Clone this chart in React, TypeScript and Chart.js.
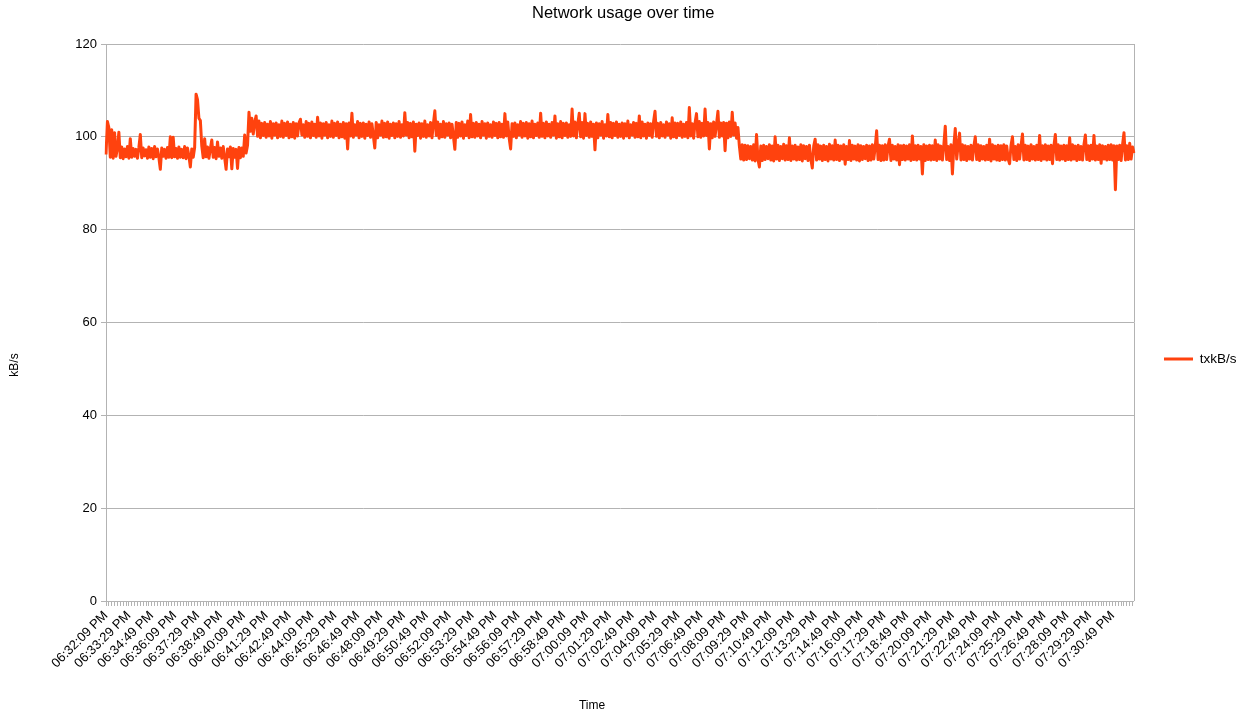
import React, { useEffect, useRef } from "react";
import { Chart, registerables } from "chart.js";

Chart.register(...registerables);

// ---- text ----
const CHART_TITLE = "Network usage over time";
const SERIES_LABEL = "txkB/s";
const X_TITLE = "Time";
const Y_TITLE = "kB/s";

// ---- sampling ----
const START_CLOCK = [18, 32, 9]; // 06:32:09 PM
const SAMPLE_STEP_S = 5;
const TICK_EVERY = 2; // a tick mark every 10 s
const LABEL_EVERY = 16; // a label every 80 s

// ---- value axis ----
const Y_MIN = 0;
const Y_MAX = 120;
const Y_STEP = 20;

// ---- transmit rate (kB/s), one sample every 5 s, 16 samples per row ----
// idle period before the transfer (06:32:09 - 06:40:24)
const idleBefore = [
  96.2, 103.3, 102.0, 95.6, 101.5, 95.4, 100.9, 95.8, 97.6, 101.0, 95.5, 97.8, 95.3, 97.4, 95.7, 97.9,
  95.4, 99.6, 95.6, 97.5, 95.8, 97.3, 95.4, 97.7, 100.5, 95.5, 97.6, 95.9, 97.2, 95.4, 97.8, 95.6,
  97.5, 95.3, 97.9, 95.7, 97.4, 95.5, 93.0, 97.6, 95.8, 97.3, 95.4, 97.7, 95.6, 100.0, 95.5, 99.9,
  95.7, 97.5, 95.4, 97.8, 95.6, 97.3, 95.5, 97.9, 95.3, 97.6, 95.8, 93.5, 97.4, 95.6, 97.7, 109.2,
  108.0, 104.0, 103.5, 98.0, 95.5, 99.6, 95.7, 97.8, 95.4, 97.5, 99.3, 95.6, 97.7, 95.3, 98.9, 95.8,
  97.6, 95.4, 97.9, 95.5, 93.0, 97.4, 95.7, 97.8, 93.1, 97.5, 95.6, 97.3, 93.2, 97.7, 95.5, 97.6,
  95.8, 100.4, 96.5, 98.2,
];

// elevated period (06:40:29 - 07:08:59)
const transfer = [
  105.3, 101.2, 104.0, 100.6, 103.2, 104.5, 100.1, 103.4, 99.8, 102.9, 100.3, 103.1,
  99.9, 102.7, 100.2, 103.3, 99.7, 102.8, 100.4, 103.0, 99.8, 102.6, 100.1, 103.4, 99.9, 102.9, 100.3, 103.2,
  99.8, 102.7, 100.0, 103.1, 99.7, 102.8, 100.2, 103.0, 103.8, 100.4, 102.6, 99.9, 103.3, 100.1, 102.9, 99.8,
  103.2, 100.3, 102.7, 99.9, 104.2, 100.2, 103.0, 99.7, 102.8, 100.4, 103.1, 99.8, 102.6, 100.1, 103.4, 99.9,
  102.9, 100.3, 103.2, 99.8, 102.7, 100.0, 103.1, 99.7, 102.8, 97.4, 103.0, 100.2, 105.1, 99.9, 102.6, 100.4,
  103.3, 99.8, 102.9, 100.1, 103.0, 99.7, 102.7, 100.3, 103.2, 99.9, 102.8, 100.2, 97.6, 103.1, 99.8, 102.6,
  100.4, 103.4, 99.9, 102.9, 100.0, 103.2, 99.7, 102.7, 100.3, 103.0, 99.8, 102.8, 100.1, 103.3, 99.9, 102.6,
  100.2, 105.2, 100.4, 103.1, 99.8, 102.9, 100.0, 103.2, 96.9, 102.7, 100.3, 103.0, 99.7, 102.8, 100.1, 103.4,
  99.9, 102.6, 100.2, 103.1, 99.8, 102.9, 105.6, 100.3, 103.2, 99.7, 102.7, 100.0, 103.3, 99.9, 102.8, 100.4,
  103.0, 99.8, 102.7, 100.1, 97.3, 103.1, 99.9, 102.9, 100.2, 103.2, 99.7, 102.6, 100.3, 103.4, 99.8, 104.8,
  100.0, 102.9, 99.9, 103.1, 100.2, 102.7, 99.8, 103.3, 100.4, 102.8, 99.7, 103.0, 100.1, 102.6, 99.9, 103.2,
  100.3, 102.9, 99.8, 103.1, 100.0, 102.7, 99.9, 105.0, 100.2, 103.2, 99.7, 97.4, 102.8, 100.1, 103.0, 99.8,
  102.6, 100.4, 103.3, 99.9, 102.9, 100.2, 103.1, 99.7, 102.8, 100.0, 103.4, 99.8, 102.7, 100.3, 103.0, 99.9,
  105.1, 100.1, 102.9, 99.8, 103.2, 100.2, 102.7, 99.9, 103.1, 100.4, 104.5, 99.7, 102.8, 100.0, 103.3, 99.8,
  102.9, 100.3, 103.0, 99.9, 102.6, 100.1, 106.0, 100.2, 103.2, 99.8, 102.8, 105.1, 100.0, 103.1, 99.7, 105.0,
  100.3, 102.9, 99.9, 103.2, 100.1, 102.7, 97.2, 103.0, 99.8, 102.8, 100.4, 103.3, 99.7, 102.6, 100.2, 104.8,
  100.0, 103.1, 99.8, 102.9, 100.3, 103.2, 99.9, 102.7, 100.1, 103.0, 99.7, 102.8, 100.2, 103.4, 99.8, 102.6,
  100.4, 103.1, 99.9, 102.9, 100.0, 104.5, 99.8, 103.2, 100.2, 102.7, 99.7, 103.0, 100.3, 102.8, 99.9, 103.3,
  105.5, 100.1, 102.9, 99.8, 103.1, 100.2, 102.6, 99.9, 103.2, 100.4, 102.8, 99.7, 104.1, 100.0, 103.0, 99.8,
  102.9, 100.3, 103.2, 99.9, 102.7, 100.1, 103.1, 99.8, 106.3, 100.2, 102.8, 99.7, 103.0, 105.0, 100.0, 103.3,
  99.9, 102.9, 100.2, 106.0, 100.3, 103.1, 97.4, 102.8, 99.8, 103.2, 100.1, 102.7, 105.5, 99.9, 103.0, 100.2,
  103.1, 97.0, 102.9, 99.8, 103.2, 100.1, 105.3, 100.4, 103.0, 99.7, 102.0,
];

// idle period after the transfer (07:09:04 - 07:32:04)
const idleAfter = [
  98.0, 95.2, 98.3, 95.0, 98.2,
  95.1, 98.1, 95.3, 97.9, 95.0, 98.3, 94.8, 100.5, 95.2, 93.5, 98.0, 94.9, 98.2, 95.1, 97.9, 95.3,
  98.3, 95.0, 98.0, 94.8, 100.0, 95.2, 98.2, 94.9, 97.9, 95.3, 98.4, 95.0, 98.1, 95.1, 99.8, 94.9,
  98.0, 95.2, 98.2, 95.0, 97.8, 95.1, 98.3, 94.8, 98.1, 95.3, 97.9, 94.9, 98.2, 95.1, 93.3, 98.0,
  99.5, 95.0, 98.3, 95.2, 98.0, 94.9, 98.2, 95.1, 97.9, 94.8, 98.4, 95.2, 98.1, 95.0, 99.3, 95.1,
  98.2, 94.9, 98.0, 95.2, 98.3, 94.1, 97.9, 95.1, 99.2, 94.9, 98.2, 95.2, 98.0, 95.0, 98.3, 94.8,
  98.1, 95.1, 97.9, 95.3, 98.2, 94.9, 98.0, 95.0, 98.3, 95.2, 97.8, 101.3, 95.1, 98.2, 94.9, 98.1,
  95.0, 98.3, 95.1, 98.0, 99.5, 94.9, 98.2, 95.2, 97.9, 95.0, 98.3, 94.0, 98.1, 95.1, 98.2, 95.0,
  98.0, 95.2, 98.3, 94.9, 100.2, 95.1, 98.1, 95.0, 98.2, 95.2, 97.9, 92.0, 98.3, 94.9, 98.0, 95.1,
  98.2, 95.0, 98.1, 95.1, 99.3, 94.9, 98.3, 95.2, 98.0, 95.0, 98.2, 102.3, 95.1, 97.9, 94.9, 98.3,
  92.0, 98.0, 101.8, 95.2, 98.2, 100.8, 95.0, 98.3, 95.1, 98.1, 94.9, 97.9, 95.2, 98.2, 95.0, 98.0,
  100.0, 95.1, 98.3, 94.9, 98.1, 95.2, 97.9, 95.0, 98.2, 95.1, 99.5, 94.8, 98.3, 95.2, 98.0, 95.0,
  98.2, 94.9, 98.1, 95.1, 98.3, 95.0, 98.0, 95.2, 94.2, 98.2, 100.0, 95.1, 97.9, 94.9, 98.3, 95.2,
  98.1, 100.6, 95.0, 98.2, 95.1, 98.0, 94.9, 98.3, 95.2, 97.9, 95.0, 98.2, 95.1, 100.3, 94.9, 98.1,
  95.2, 98.3, 95.0, 98.0, 95.1, 98.2, 94.2, 98.1, 100.5, 95.1, 98.3, 95.0, 98.0, 95.2, 98.2, 94.9,
  98.1, 95.1, 99.8, 95.0, 98.3, 95.2, 98.0, 94.9, 98.2, 95.1, 97.9, 95.0, 98.3, 100.4, 95.1, 98.1,
  94.9, 98.2, 95.2, 100.3, 95.0, 98.0, 95.1, 98.3, 94.3, 98.1, 95.2, 97.9, 95.0, 98.2, 95.1, 98.3,
  95.0, 98.1, 88.6, 98.0, 95.1, 98.2, 94.9, 98.3, 100.9, 95.0, 98.1, 95.1, 98.6, 95.2, 97.8, 96.5,
];

const txkBps = [...idleBefore, ...transfer, ...idleAfter];

// ---- style ----
const FONT_FAMILY = '"Liberation Sans", Arial, sans-serif';
const TEXT_COLOR = "#000000";
const GRID_COLOR = "#b3b3b3";
const LINE_COLOR = "#ff420e";

const pad2 = (n: number) => String(n).padStart(2, "0");

function formatClock(totalSec: number): string {
  const h24 = Math.floor(totalSec / 3600) % 24;
  const m = Math.floor((totalSec % 3600) / 60);
  const s = totalSec % 60;
  const suffix = h24 >= 12 ? "PM" : "AM";
  const h12 = h24 % 12 === 0 ? 12 : h24 % 12;
  return `${pad2(h12)}:${pad2(m)}:${pad2(s)} ${suffix}`;
}

const startSec = START_CLOCK[0] * 3600 + START_CLOCK[1] * 60 + START_CLOCK[2];
const timeLabels = txkBps.map((_, i) => formatClock(startSec + i * SAMPLE_STEP_S));

// right-hand frame of the plot area plus the two axis captions
const framePlugin = {
  id: "frameAndCaptions",
  beforeDatasetsDraw(chart: any) {
    const { ctx, chartArea } = chart;
    ctx.save();
    ctx.strokeStyle = GRID_COLOR;
    ctx.lineWidth = 1;
    ctx.beginPath();
    const x = Math.round(chartArea.right) + 0.5;
    ctx.moveTo(x, chartArea.top);
    ctx.lineTo(x, chartArea.bottom);
    ctx.stroke();
    ctx.restore();
  },
  afterDraw(chart: any) {
    const { ctx } = chart;
    ctx.save();
    ctx.fillStyle = TEXT_COLOR;
    ctx.font = `12px ${FONT_FAMILY}`;
    ctx.textAlign = "center";
    ctx.textBaseline = "middle";
    ctx.fillText(X_TITLE, 592, 706);
    ctx.translate(15, 365);
    ctx.rotate(-Math.PI / 2);
    ctx.fillText(Y_TITLE, 0, 0);
    ctx.restore();
  },
};

export default function App() {
  const canvasRef = useRef<HTMLCanvasElement | null>(null);

  useEffect(() => {
    if (!canvasRef.current) return;
    const chart = new Chart(canvasRef.current, {
      type: "line",
      data: {
        labels: timeLabels,
        datasets: [
          {
            label: SERIES_LABEL,
            data: txkBps,
            borderColor: LINE_COLOR,
            backgroundColor: LINE_COLOR,
            borderWidth: 3,
            borderJoinStyle: "round",
            borderCapStyle: "butt",
            pointRadius: 0,
            pointHoverRadius: 0,
            tension: 0,
            fill: false,
          },
        ],
      },
      options: {
        responsive: true,
        maintainAspectRatio: false,
        animation: false,
        events: [],
        layout: { padding: { left: 0, right: 2.5, top: 0, bottom: 0 } },
        plugins: {
          title: {
            display: true,
            text: CHART_TITLE,
            color: TEXT_COLOR,
            font: { family: FONT_FAMILY, size: 16.5, weight: "normal" },
            padding: { top: 4, bottom: 20.2 },
          },
          legend: {
            position: "right",
            align: "center",
            labels: {
              usePointStyle: true,
              pointStyle: "line",
              pointStyleWidth: 29,
              padding: 30,
              color: TEXT_COLOR,
              font: { family: FONT_FAMILY, size: 13.5 },
            },
          },
          tooltip: { enabled: false },
        },
        scales: {
          x: {
            type: "category",
            offset: false,
            grid: {
              drawOnChartArea: false,
              drawTicks: true,
              tickLength: 5,
              color: (c: any) => (c.index % TICK_EVERY === 0 ? GRID_COLOR : "rgba(0,0,0,0)"),
            },
            border: { color: GRID_COLOR },
            ticks: {
              autoSkip: false,
              minRotation: 45,
              maxRotation: 45,
              padding: 2,
              color: TEXT_COLOR,
              font: { family: FONT_FAMILY, size: 13 },
              callback(this: any, value: any, index: number) {
                return index % LABEL_EVERY === 0 ? this.getLabelForValue(value) : "";
              },
            },
            afterFit(scale: any) {
              scale.height = 117;
            },
          },
          y: {
            min: Y_MIN,
            max: Y_MAX,
            ticks: {
              stepSize: Y_STEP,
              padding: 4,
              color: TEXT_COLOR,
              font: { family: FONT_FAMILY, size: 13 },
            },
            grid: { color: GRID_COLOR, tickLength: 5 },
            border: { color: GRID_COLOR },
            afterFit(scale: any) {
              scale.width = 106;
            },
          },
        },
      },
      plugins: [framePlugin],
    });
    return () => chart.destroy();
  }, []);

  return (
    <div
      style={{
        position: "absolute",
        left: 0,
        top: 0,
        width: 1249,
        height: 718,
        background: "#ffffff",
      }}
    >
      <canvas ref={canvasRef} />
    </div>
  );
}
